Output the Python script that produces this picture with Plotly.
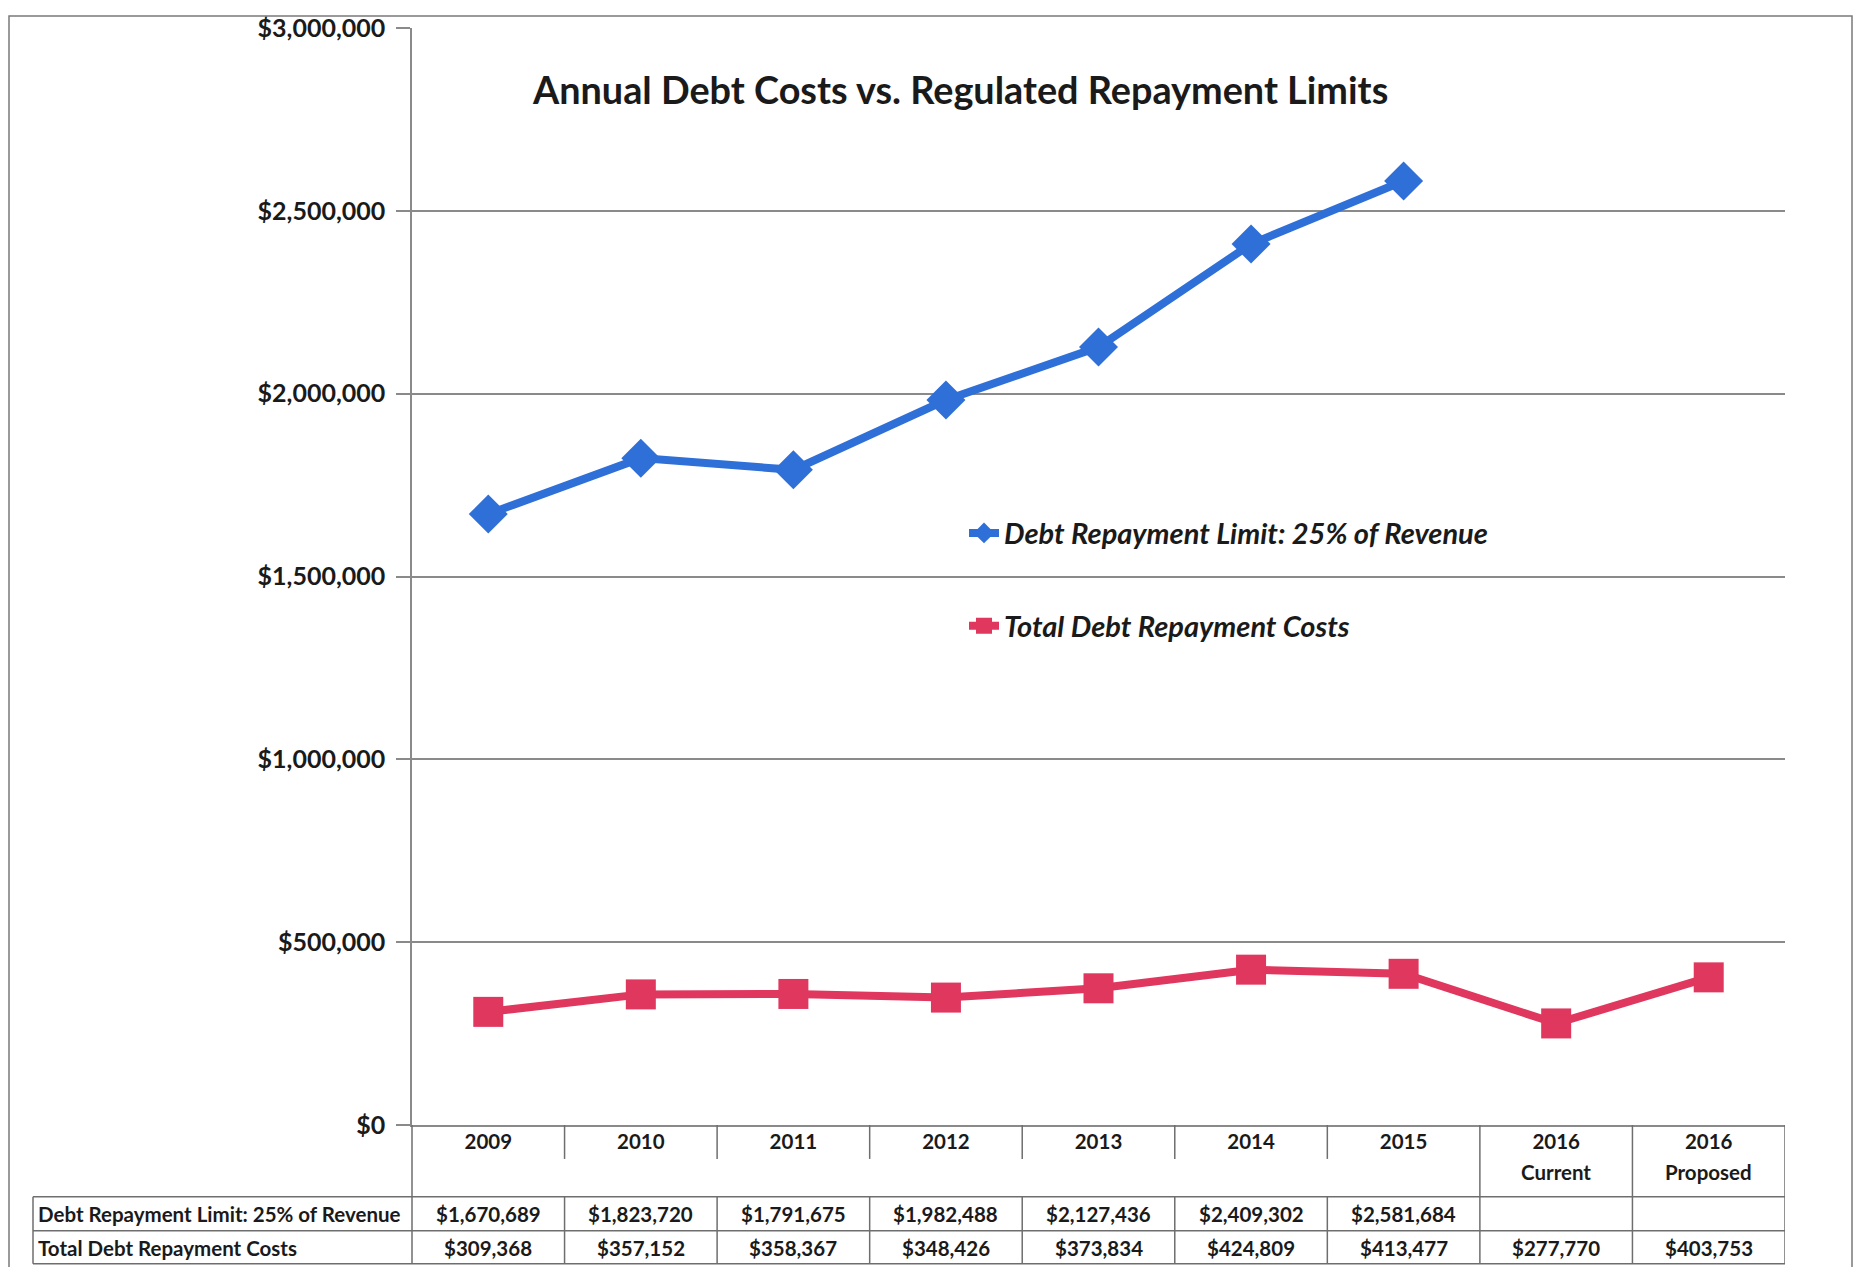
import plotly.graph_objects as go

# ---------------- data ----------------
categories = ["2009", "2010", "2011", "2012", "2013", "2014", "2015", "2016 Current", "2016 Proposed"]
year_labels = ["2009", "2010", "2011", "2012", "2013", "2014", "2015", "2016", "2016"]
sub_labels = ["", "", "", "", "", "", "", "Current", "Proposed"]
limit_values = [1670689, 1823720, 1791675, 1982488, 2127436, 2409302, 2581684, None, None]
cost_values = [309368, 357152, 358367, 348426, 373834, 424809, 413477, 277770, 403753]
limit_name = "Debt Repayment Limit: 25% of Revenue"
cost_name = "Total Debt Repayment Costs"
title_text = "Annual Debt Costs vs. Regulated Repayment Limits"
y_ticks = [0, 500000, 1000000, 1500000, 2000000, 2500000, 3000000]

# ---------------- layout geometry (pixels) ----------------
W, H = 1856, 1267
PL, PR, PT, PB = 412, 1785, 26, 1125
PW, PH = PR - PL, PB - PT

def px(x):
    return (x - PL) / PW

def py(y):
    return (PB - y) / PH

BLUE = "#2f6fd8"
PINK = "#e0375f"
GRID = "#8a8a8a"
FONT = "Lato"
TXT = "#1a1a1a"

fig = go.Figure()
fig.add_trace(go.Scatter(
    x=categories, y=limit_values, mode="lines+markers", name=limit_name,
    line=dict(color=BLUE, width=8),
    marker=dict(symbol="diamond", size=30, color=BLUE),
    legend="legend",
))
fig.add_trace(go.Scatter(
    x=categories, y=cost_values, mode="lines+markers", name=cost_name,
    line=dict(color=PINK, width=8),
    marker=dict(symbol="square", size=30, color=PINK),
    legend="legend2",
))

shapes = []
line_style = dict(color="#6e6e6e", width=1.5)

def hline(y, x0, x1, xref="paper"):
    shapes.append(dict(type="line", xref=xref, yref="paper", x0=x0, x1=x1,
                       y0=py(y), y1=py(y), line=line_style, layer="above"))

def vline(x, y0, y1, xref="paper"):
    shapes.append(dict(type="line", xref=xref, yref="paper", x0=x, x1=x,
                       y0=py(y0), y1=py(y1), line=line_style, layer="above"))

# outer page border
shapes.append(dict(type="rect", xref="paper", yref="paper",
                   x0=px(9), x1=px(1852), y0=py(1300), y1=py(14),
                   line=dict(color="#7a7a7a", width=1.5)))

# table geometry
T_TOP, T_MID, T_BOT = 1197, 1231, 1264
T_LEFT = 33
hline(T_TOP, px(T_LEFT), px(PR))
hline(T_MID, px(T_LEFT), px(PR))
hline(T_BOT, px(T_LEFT), px(PR))
vline(px(T_LEFT), T_TOP, T_BOT)
vline(px(PL), PB, T_BOT)
n = len(categories)
for i in range(1, n + 1):
    xb = i - 0.5
    if i >= n - 2:
        vline(xb, PB, T_BOT, xref="x")
    else:
        vline(xb, PB, PB + 34, xref="x")
        vline(xb, T_TOP, T_BOT, xref="x")

annotations = []
# title
annotations.append(dict(text=title_text, xref="paper", yref="paper",
                        x=px(960), y=py(88), xanchor="center", yanchor="middle",
                        showarrow=False,
                        font=dict(family=FONT, size=37.8, color=TXT, weight="bold")))
# sub labels under the years
for i, s in enumerate(sub_labels):
    if s:
        annotations.append(dict(text=s, xref="x", yref="paper", x=i, y=py(1172),
                                xanchor="center", yanchor="middle", showarrow=False,
                                font=dict(family=FONT, size=20.5, color=TXT, weight="bold")))
# row headers
for name, yy in [(limit_name, 1214), (cost_name, 1248)]:
    annotations.append(dict(text=name, xref="paper", yref="paper", x=px(T_LEFT + 3), y=py(yy),
                            xanchor="left", yanchor="middle", showarrow=False,
                            font=dict(family=FONT, size=20.5, color=TXT, weight="bold")))
# table values
for vals, yy in [(limit_values, 1214), (cost_values, 1248)]:
    for i, v in enumerate(vals):
        if v is None:
            continue
        annotations.append(dict(text=f"${v:,.0f}", xref="x", yref="paper", x=i, y=py(yy),
                                xanchor="center", yanchor="middle", showarrow=False,
                                font=dict(family=FONT, size=20.5, color=TXT, weight="bold")))

legend_font = dict(family=FONT, size=29, color=TXT, weight="bold", style="italic")
fig.update_layout(
    width=W, height=H,
    margin=dict(l=PL, r=W - PR, t=PT, b=H - PB),
    paper_bgcolor="white", plot_bgcolor="white",
    showlegend=True,
    legend=dict(x=px(964), y=py(532), xanchor="left", yanchor="middle",
                font=legend_font, bgcolor="rgba(0,0,0,0)", itemwidth=30),
    legend2=dict(x=px(964), y=py(625), xanchor="left", yanchor="middle",
                 font=legend_font, bgcolor="rgba(0,0,0,0)", itemwidth=30),
    shapes=shapes,
    annotations=annotations,
    xaxis=dict(type="category", range=[-0.5, n - 0.5],
               tickvals=categories, ticktext=year_labels,
               tickfont=dict(family=FONT, size=20.5, color=TXT, weight="bold"),
               showgrid=False, showline=True, linecolor=GRID, linewidth=1.5,
               ticks="", ticklabelstandoff=-2, zeroline=False),
    yaxis=dict(range=[0, 3000000], tickvals=y_ticks, tickformat="$,.0f",
               tickfont=dict(family=FONT, size=25, color=TXT, weight="bold"),
               showgrid=True, gridcolor=GRID, gridwidth=1.5,
               showline=True, linecolor=GRID, linewidth=1.5,
               ticks="outside", ticklen=14, tickcolor=GRID, tickwidth=1.5,
               ticklabelstandoff=6, zeroline=False),
)

fig.write_html("out.html")
